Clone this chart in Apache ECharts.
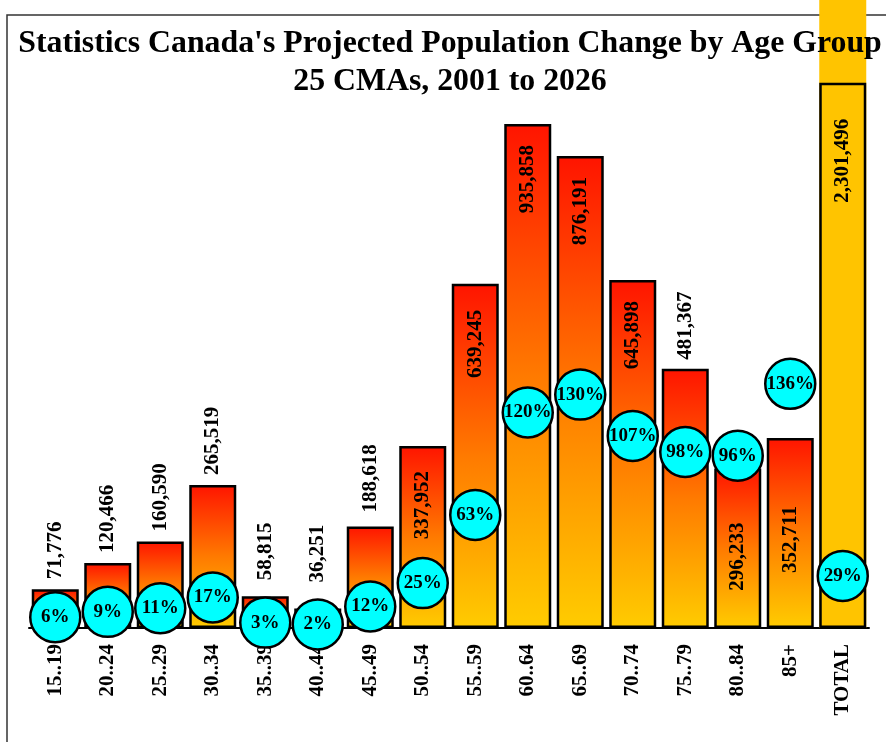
<!DOCTYPE html>
<html>
<head>
<meta charset="utf-8">
<script src="https://cdn.jsdelivr.net/npm/echarts@6/dist/echarts.min.js"></script>
<style>
  html, body { margin: 0; padding: 0; background: #fff; }
  #chart { width: 886px; height: 742px; }
</style>
</head>
<body>
<div id="chart"></div>
<script>
// age groups and values
var ageGroups = ['15..19', '20..24', '25..29', '30..34', '35..39', '40..44', '45..49', '50..54',
  '55..59', '60..64', '65..69', '70..74', '75..79', '80..84', '85+', 'TOTAL'];
var popChange = [71776, 120466, 160590, 265519, 58815, 36251, 188618, 337952,
  639245, 935858, 876191, 645898, 481367, 296233, 352711, 2301496];
var pctChange = [6, 9, 11, 17, 3, 2, 12, 25, 63, 120, 130, 107, 98, 96, 136, 29];

// where each value label sits (position, distance)
var labelPlace = [
  ['top', 10], ['top', 10], ['top', 10], ['top', 10], ['top', 16], ['top', 26], ['top', 14],
  ['insideTop', 25], ['insideTop', 26], ['insideTop', 21], ['insideTop', 21], ['insideTop', 21],
  ['top', 9], ['insideTop', 54], ['insideTop', 68], ['insideTop', 36]
];

var FONT = '"Liberation Serif", "Times New Roman", serif';
var totalIdx = ageGroups.length - 1;

function fmt(v) {
  return String(v).replace(/\B(?=(\d{3})+(?!\d))/g, ',');
}

var redYellow = {
  type: 'linear', x: 0, y: 0, x2: 0, y2: 1,
  colorStops: [
    { offset: 0, color: '#ff1400' },
    { offset: 0.5, color: '#ff7a00' },
    { offset: 1, color: '#ffcc00' }
  ]
};

// bars with border, clipped to the plot
var barData = popChange.map(function (v, i) {
  var pos = labelPlace[i][0];
  return {
    value: v,
    itemStyle: i === totalIdx ? { color: '#ffc400' } : { color: redYellow },
    label: {
      position: pos,
      distance: labelPlace[i][1],
      align: pos === 'top' ? 'left' : 'right',
      verticalAlign: 'middle'
    }
  };
});

// the TOTAL bar runs past the top of the plot
var overflowData = popChange.map(function (v, i) {
  return i === totalIdx ? v : null;
});

var chart = echarts.init(document.getElementById('chart'));

chart.setOption({
  animation: false,
  backgroundColor: '#fff',
  title: {
    text: "Statistics Canada's Projected Population Change by Age Group\n25 CMAs, 2001 to 2026",
    left: 445,
    top: 20,
    textAlign: 'center',
    textStyle: {
      fontFamily: FONT,
      fontWeight: 'bold',
      fontSize: 31.8,
      lineHeight: 38,
      color: '#000'
    }
  },
  graphic: [
    {
      type: 'rect',
      z: 0,
      shape: { x: 7, y: 15, width: 900, height: 800 },
      style: { fill: null, stroke: '#333', lineWidth: 1.5 }
    }
  ],
  grid: {
    left: 29,
    right: 17,
    top: 84,
    bottom: 114
  },
  xAxis: {
    type: 'category',
    data: ageGroups,
    axisLine: { lineStyle: { color: '#000', width: 2 } },
    axisTick: { length: 7, lineStyle: { color: '#000', width: 1.5 } },
    axisLabel: {
      rotate: 90,
      margin: 16,
      interval: 0,
      fontFamily: FONT,
      fontWeight: 'bold',
      fontSize: 21,
      color: '#000'
    }
  },
  yAxis: [
    {
      type: 'value',
      min: 0,
      max: 1010000,
      show: false,
      splitLine: { show: false }
    },
    {
      type: 'value',
      min: 0,
      max: 303,
      show: false,
      splitLine: { show: false }
    }
  ],
  series: [
    {
      name: 'overflow',
      type: 'bar',
      data: overflowData,
      barWidth: 47,
      barGap: '-100%',
      clip: false,
      z: 1,
      itemStyle: { color: '#ffc400' },
      silent: true
    },
    {
      name: 'Population change',
      type: 'bar',
      data: barData,
      barWidth: 47,
      barGap: '-100%',
      itemStyle: { borderColor: '#000', borderWidth: 2.5 },
      label: {
        show: true,
        rotate: 90,
        fontFamily: FONT,
        fontWeight: 'bold',
        fontSize: 21,
        color: '#000',
        formatter: function (p) { return fmt(p.value); }
      }
    },
    {
      name: '% change',
      type: 'scatter',
      yAxisIndex: 1,
      data: pctChange,
      symbol: 'circle',
      symbolSize: 50,
      z: 5,
      itemStyle: { color: '#00ffff', borderColor: '#000', borderWidth: 2.5, opacity: 1 },
      label: {
        show: true,
        position: 'inside',
        fontFamily: FONT,
        fontWeight: 'bold',
        fontSize: 19,
        color: '#000',
        formatter: function (p) { return p.value + '%'; }
      }
    }
  ]
});
</script>
</body>
</html>
